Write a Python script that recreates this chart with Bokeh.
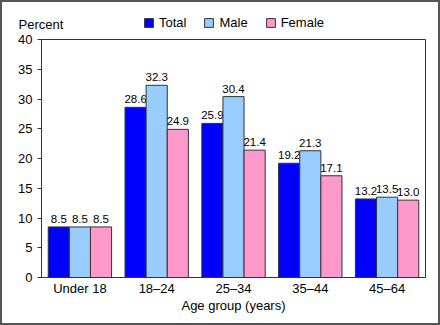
from bokeh.plotting import figure
from bokeh.layouts import column, row
from bokeh.models import ColumnDataSource, FactorRange, Range1d, Legend, LegendItem, FixedTicker, Label
from bokeh.transform import dodge
from bokeh.core.properties import value
from bokeh.embed import file_html
from bokeh.resources import INLINE

categories = ["Under 18", "18\u201324", "25\u201334", "35\u201344", "45\u201364"]
total = [8.5, 28.6, 25.9, 19.2, 13.2]
male = [8.5, 32.3, 30.4, 21.3, 13.5]
female = [8.5, 24.9, 21.4, 17.1, 13.0]
y_ticks = [0, 5, 10, 15, 20, 25, 30, 35, 40]

FONT = "Liberation Sans"
EDGE = "#333333"
src = ColumnDataSource(dict(
    cat=categories, total=total, male=male, female=female,
    total_lbl=[f"{v:.1f}" for v in total],
    male_lbl=[f"{v:.1f}" for v in male],
    female_lbl=[f"{v:.1f}" for v in female],
))
series = [("total", "#0000FF", "Total"), ("male", "#99CCFF", "Male"), ("female", "#FF99CC", "Female")]

# ---- header: "Percent" + legend ----
HW, HH = 436, 29
head = figure(width=HW, height=HH, x_range=Range1d(0, HW), y_range=Range1d(0, HH),
              x_axis_type=None, y_axis_type=None, output_backend="svg", toolbar_location=None,
              min_border=0, min_border_left=0, min_border_right=0, min_border_top=0, min_border_bottom=0)
head.grid.grid_line_color = None
head.outline_line_color = None
head.border_fill_color = "white"
head.background_fill_color = "white"
head_items = []
for key, color, name in series:
    # off-screen placeholder so the legend swatch is drawn
    r = head.vbar(x=[-1000], top=[-1000], width=1, fill_color=color, line_color=EDGE, line_width=1)
    head_items.append(LegendItem(label=name, renderers=[r]))
legend = Legend(items=head_items, orientation="horizontal", location=(141, 1),
                label_text_font=FONT, label_text_font_size="13px", label_text_color="black",
                glyph_width=11, glyph_height=11, label_height=12, label_width=10,
                spacing=17, label_standoff=5,
                padding=0, margin=0, border_line_color=None, background_fill_alpha=0)
head.add_layout(legend, "center")
head.add_layout(Label(x=16, y=7, text="Percent", text_font=FONT, text_font_size="13px",
                      text_color="black", text_baseline="middle"))

# ---- main chart ----
p = figure(width=436, height=292, x_range=FactorRange(*categories, range_padding=0),
           y_range=Range1d(0, 40), output_backend="svg", toolbar_location=None,
           min_border_left=39, min_border_right=13, min_border_top=8, min_border_bottom=46)
p.xgrid.grid_line_color = None
p.ygrid.grid_line_color = None
p.outline_line_color = EDGE
p.outline_line_width = 1
p.background_fill_color = "white"
p.border_fill_color = "white"

w = 0.275
offsets = [-w, 0, w]
for (key, color, name), off in zip(series, offsets):
    p.vbar(x=dodge("cat", off, range=p.x_range), top=key, width=w, source=src,
           fill_color=color, line_color=EDGE, line_width=1)
    p.text(x=dodge("cat", off, range=p.x_range), y=key, text=key + "_lbl", source=src,
           text_align="center", text_baseline="bottom", y_offset=-4,
           text_font=value(FONT), text_font_size="11.5px", text_color="black")

p.yaxis.ticker = FixedTicker(ticks=y_ticks)
p.yaxis.minor_tick_line_color = None
p.yaxis.major_tick_in = 0
p.yaxis.major_tick_out = 4
p.yaxis.major_label_text_font = FONT
p.yaxis.major_label_text_font_size = "13px"
p.yaxis.major_label_text_color = "black"
p.yaxis.axis_line_color = EDGE
p.yaxis.major_tick_line_color = EDGE

p.xaxis.major_tick_line_color = None
p.xaxis.minor_tick_line_color = None
p.xaxis.major_tick_in = 0
p.xaxis.major_tick_out = 0
p.xaxis.axis_line_color = EDGE
p.xaxis.major_label_text_font = FONT
p.xaxis.major_label_text_font_size = "13px"
p.xaxis.major_label_text_color = "black"
p.xaxis.axis_label = "Age group (years)"
p.xaxis.axis_label_text_font = FONT
p.xaxis.axis_label_text_font_size = "13px"
p.xaxis.axis_label_text_font_style = "normal"
p.xaxis.axis_label_text_color = "black"
p.xaxis.axis_label_standoff = -1
p.xaxis.major_label_standoff = 3

layout = column(row(head), p, spacing=0, styles={"border": "2px solid #555555", "background-color": "white"})

open("out.html", "w").write(file_html(layout, INLINE))
